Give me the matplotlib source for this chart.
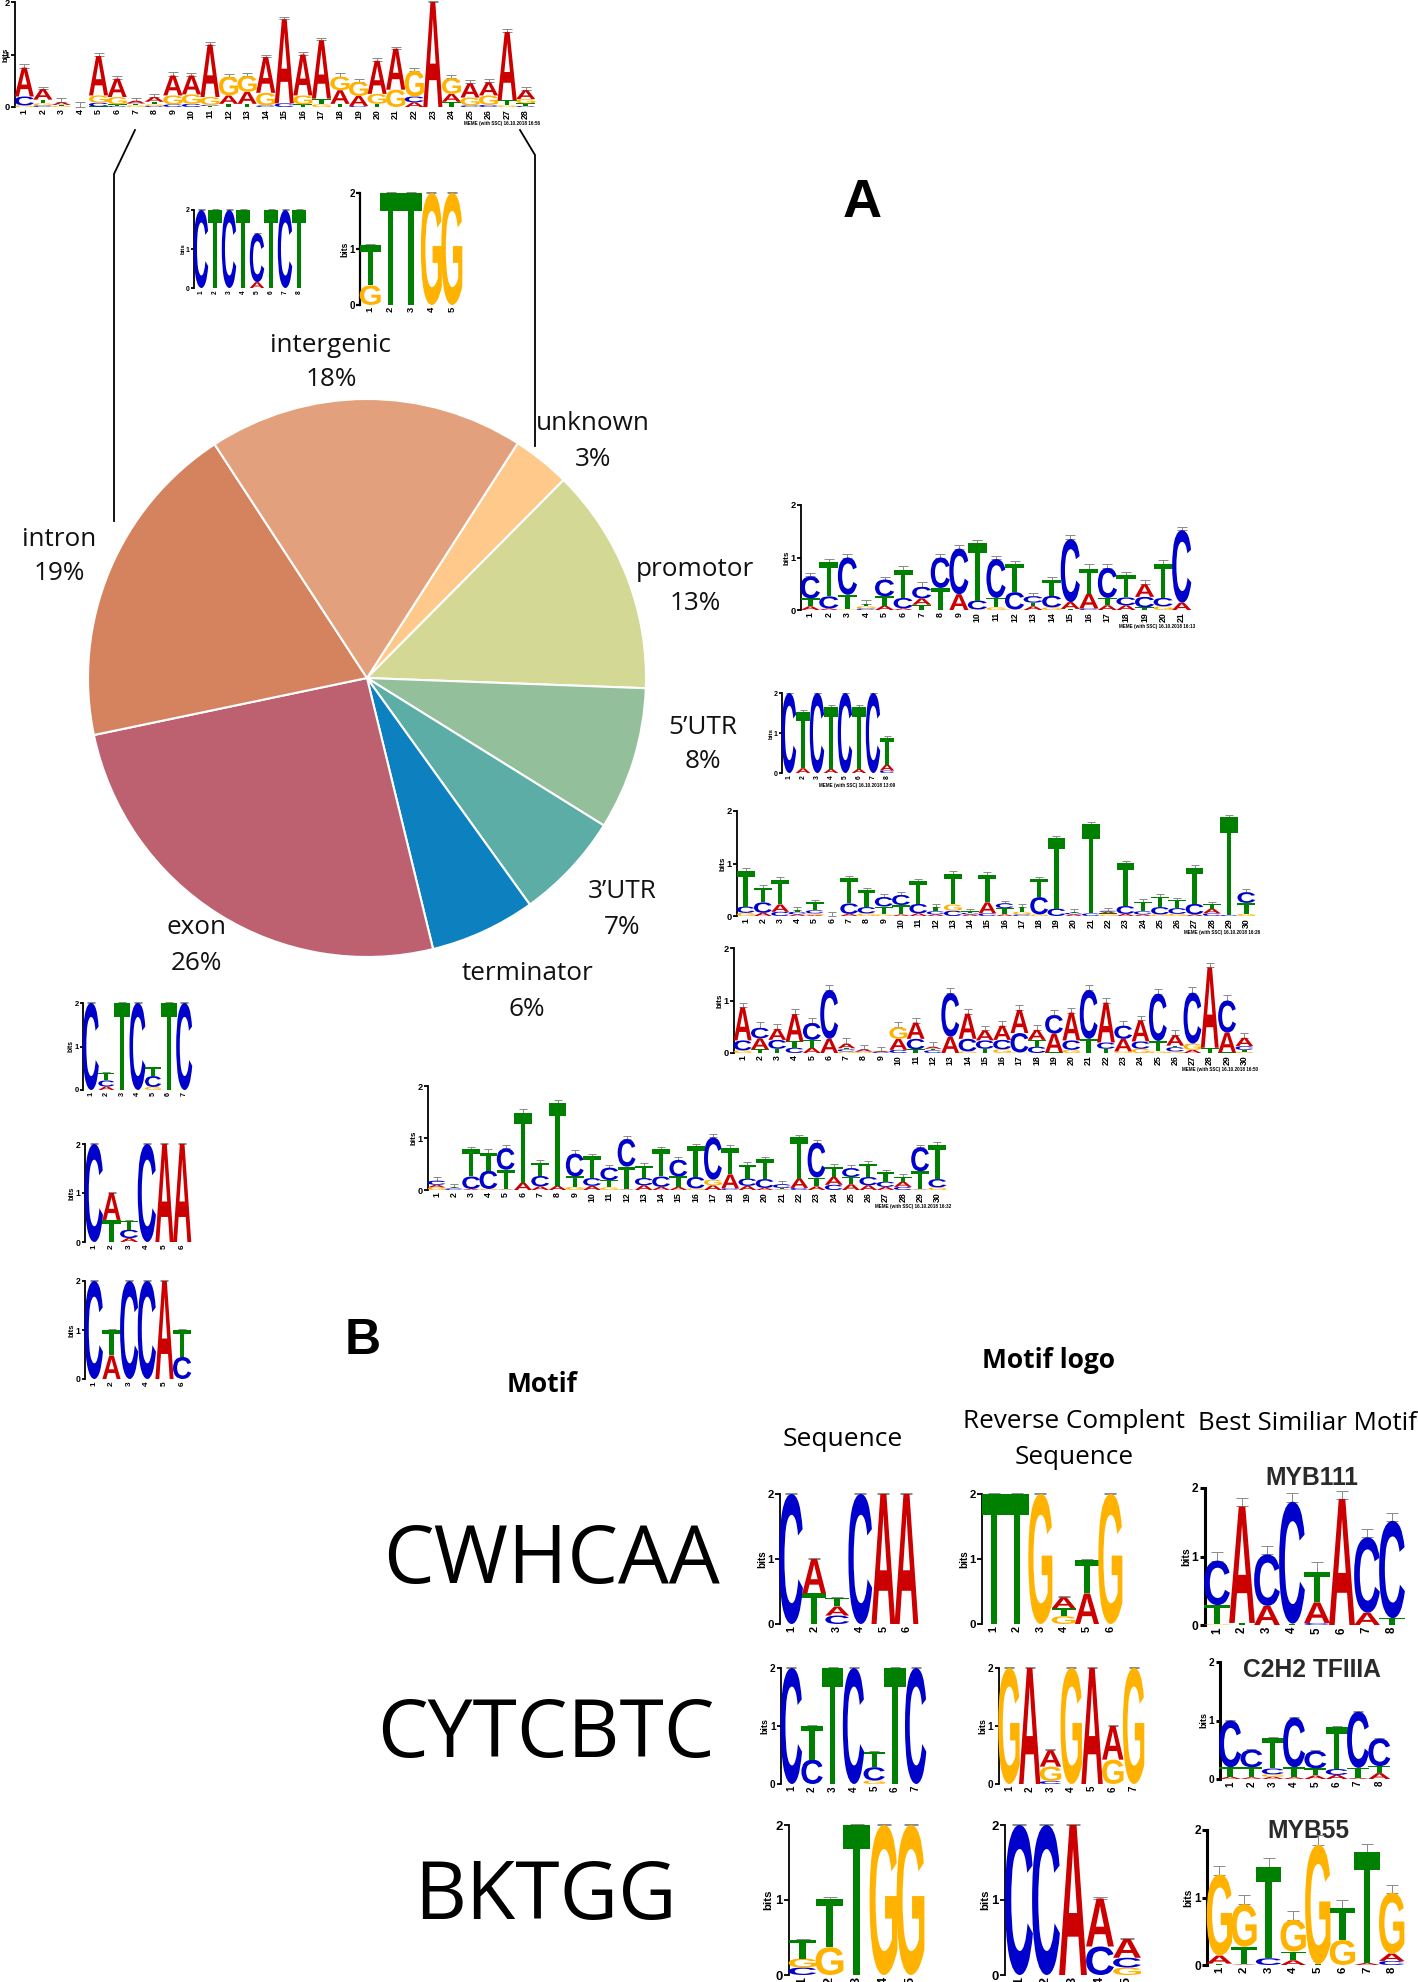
import matplotlib
matplotlib.use('Agg')
import matplotlib.pyplot as plt
from matplotlib.font_manager import FontProperties
from matplotlib.patches import PathPatch
from matplotlib.textpath import TextPath
from matplotlib.transforms import Affine2D

W, H = 1418, 1982

# pie
pie_labels = ['unknown', 'promotor', "5\u2019UTR", "3\u2019UTR", 'terminator', 'exon', 'intron', 'intergenic']
pie_percent = ['3%', '13%', '8%', '7%', '6%', '26%', '19%', '18%']
pie_values = [3.36, 13.14, 8.28, 6.22, 6.11, 25.53, 19.08, 18.28]
pie_colors = ['#FEC98A', '#D3D894', '#93C09B', '#5BADA5', '#0D80C0', '#BD6171', '#D5835F', '#E2A07C']

# logos: each stack is written bottom to top, letter + height in bits
logo_top = ['G.03 C.17 A.55', 'C.03 G.04 T.07 A.2', 'G.02 T.02 A.05', '', 'T.01 C.07 G.14 A.75',
            'C.02 T.03 G.14 A.35', 'G.03 T.03 C.01 A.05', 'C.02 G.03 T.05 A.09', 'C.05 G.17 A.38',
            'C.06 G.18 A.36', 'T.02 C.02 G.15 A1.0', 'T.06 A.16 G.36', 'T.06 A.23 G.3', 'C.03 G.24 A.68',
            'C.07 A1.6', 'T.05 G.17 A.78', 'G.05 T.11 A1.11', 'T.06 A.26 G.26', 'C.02 A.19 G.27',
            'T.06 G.19 A.63', 'G.33 A.78', 'A.09 C.11 G.49', 'A2', 'T.1 A.15 G.3', 'C.03 G.15 A.27',
            'C.04 G.18 A.25', 'G.03 T.1 A1.3', 'C.02 T.05 G.08 A.17']
err_top = [.06, .04, .08, .1, .06, .06, .06, .06, .06, .05, .05, .05, .06, .05,
           .05, .05, .05, .06, .06, .05, .04, .06, .02, .06, .06, .06, .05, .07]

logo_intergenic_a = ['C2', 'T2', 'C2', 'T2', 'A.15 C1.25', 'T2', 'C2', 'T2']
logo_intergenic_b = ['G.35 T.72', 'T2', 'T2', 'G2', 'G2']

logo_promotor = ['A.07 T.15 C.42', 'A.03 C.23 T.65', 'G.01 T.28 C.71', 'C.03 G.04 T.05', 'A.08 T.18 C.32',
                 'A.03 C.2 T.53', 'T.1 A.12 C.22', 'T.42 C.58', 'A.3 C.87', 'G.01 C.17 T1.09', 'G.05 T.18 C.74',
                 'G.01 C.33 T.54', 'A.07 T.07 C.12', 'G.05 C.22 T.3', 'T.02 A.13 C1.2', 'C.03 A.28 T.48',
                 'A.09 T.14 C.57', 'A.09 C.15 T.42', 'T.05 C.2 A.24', 'G.07 C.16 T.65', 'A.14 C1.38']
err_promotor = [.07, .07, .07, .07, .05, .07, .09, .06, .07, .06, .06, .06, .07, .06, .07, .08, .08, .07, .08, .07, .07]

logo_utr5 = ['C2', 'A.12 T1.4', 'C2', 'A.1 T1.55', 'C2', 'A.1 T1.55', 'C2', 'C.06 A.15 T.66']
err_utr5 = [.01, .05, .01, .04, .01, .04, .01, .05]

logo_utr3_a = ['G.06 C.12 T.68', 'A.06 C.2 T.28', 'C.08 A.14 T.47', 'A.03 C.05 T.04', 'A.02 G.03 C.06 T.15', '',
               'A.04 C.2 T.48', 'G.05 C.12 T.33', 'G.03 T.15 C.18', 'A.03 T.18 C.19', 'A.05 C.18 T.43',
               'A.03 C.06 T.09', 'C.1 G.12 T.58', 'A.03 C.03 T.03', 'C.05 A.21 T.52', 'A.03 T.12 C.09',
               'C.03 G.05 T.1', 'G.03 C.33 T.34', 'C.14 T1.35', 'A.03 C.03 T.02', 'C.05 T1.7',
               'G.03 T.02 A.03 C.02', 'A.04 C.15 T.82', 'A.03 C.06 T.18', 'G.03 C.14 T.2', 'G.04 C.11 T.16',
               'A.03 C.2 T.69', 'C.05 A.09 T.09', 'C.02 T1.87', 'G.04 T.21 C.2']
err_utr3_a = [.05, .05, .05, .05, .05, .07, .05, .04, .05, .05, .05, .05, .05, .05, .05,
              .05, .05, .05, .04, .05, .05, .05, .04, .05, .05, .04, .05, .04, .04, .06]

logo_utr3_b = ['G.05 C.19 A.63', 'T.07 A.21 C.2', 'T.08 C.17 A.21', 'C.1 T.12 A.52', 'A.1 T.15 C.32', 'A.27 C.93',
               'G.03 C.04 T.02 A.09', 'G.02 C.01 A.04', 'C.02 A.02', 'C.06 A.21 G.22', 'T.07 C.2 A.31',
               'C.05 T.03 A.04', 'A.31 C.83', 'G.03 C.24 A.48', 'T.08 C.16 A.19', 'G.07 C.18 A.27',
               'G.01 C.37 A.44', 'C.12 T.13 A.19', 'T.01 A.36 C.35', 'G.06 C.18 A.53', 'T.27 C.93',
               'T.08 C.12 A.76', 'G.03 A.24 C.25', 'G.08 C.14 A.4', 'G.03 T.2 C.9', 'G.03 C.08 T.03 A.2',
               'A.06 G.12 C.97', 'T.1 A1.53', 'T.01 A.38 C.61', 'G.02 T.04 C.07 A.16']
err_utr3_b = [.09, .11, .09, .09, .1, .09, .1, .09, .08, .1, .09, .09, .09, .09, .09,
              .09, .09, .09, .09, .09, .09, .09, .09, .09, .09, .09, .1, .09, .1, .1]

logo_terminator = ['G.05 A.05 C.08', 'C.03 T.03', 'A.02 C.24 T.52', 'G.02 C.35 T.35', 'A.01 T.38 C.41', 'A.14 T1.35',
                   'A.07 C.2 T.25', 'A.08 T1.6', 'G.06 T.2 C.44', 'A.08 C.15 T.42', 'G.05 T.14 C.24', 'A.01 T.44 C.53',
                   'A.09 C.14 T.24', 'A.06 C.2 T.52', 'A.06 T.2 C.32', 'G.03 C.22 T.59', 'A.09 G.11 C.81',
                   'C.03 A.27 T.5', 'A.08 C.14 T.27', 'A.04 C.17 T.38', 'A.01 T.03 C.07', 'C.04 A.18 T.79',
                   'A.07 T.17 C.67', 'C.1 A.15 T.19', 'A.11 T.14 C.17', 'A.09 C.16 T.25', 'A.06 C.1 T.18',
                   'C.06 A.1 T.09', 'A.01 T.35 C.46', 'G.05 C.16 T.66']
err_terminator = [.07, .06, .05, .06, .06, .07, .05, .06, .06, .05, .05, .06, .05, .05, .06,
                  .05, .06, .06, .05, .05, .06, .05, .05, .06, .07, .05, .05, .05, .05, .05]

logo_exon_a = ['C2', 'A.08 C.14 T.18', 'T2', 'C2', 'G.07 C.25 T.2', 'T2', 'C2']
logo_exon_b = ['C2', 'T.45 A.55', 'A.08 C.17 T.18', 'C2', 'A2', 'A2']
logo_exon_c = ['C2', 'A.48 T.52', 'C2', 'C2', 'A2', 'C.45 T.55']

logo_cwhcaa = ['C2', 'T.47 A.53', 'C.13 A.14 T.13', 'C2', 'A2', 'A2']
logo_cwhcaa_rc = ['T2', 'T2', 'G2', 'G.12 T.12 A.17', 'A.47 T.51', 'G2']
logo_myb111 = ['G.01 T.28 C.65', 'T.03 A1.7', 'A.28 C.75', 'T.02 C1.78', 'C.03 A.3 T.45', 'A1.84', 'A.18 C1.1', 'T.1 C1.42']
err_myb111 = [.12, .12, .12, .12, .14, .12, .12, .12]

logo_cytcbtc = ['C2', 'C.42 T.58', 'T2', 'C2', 'G.06 C.23 T.27', 'T2', 'C2']
logo_cytcbtc_rc = ['G2', 'A2', 'C.05 G.25 A.28', 'G2', 'A2', 'G.42 A.58', 'G2']
logo_tfiiia = ['A.04 T.16 C.8', 'A.03 T.17 C.3', 'A.04 G.04 C.1 T.52', 'A.03 T.17 C.85',
               'A.06 T.12 C.3', 'A.07 C.1 T.72', 'A.02 T.17 C.96', 'A.1 T.12 C.47']

logo_bktgg = ['C.1 G.12 T.25', 'G.37 T.65', 'T2', 'G2', 'G2']
logo_bktgg_rc = ['C2', 'C2', 'A2', 'C.38 A.64', 'G.1 C.13 A.25']
logo_myb55 = ['T.02 A.12 G1.2', 'A.01 T.26 G.63', 'C.1 T1.35', 'A.07 T.13 G.47',
              'T.01 G1.77', 'G.37 T.47', 'A.03 T1.65', 'C.06 A.11 G.9']
err_myb55 = [.13, .14, .13, .13, .14, .13, .12, .12]

LETTER_COLORS = {'A': '#CC0000', 'C': '#0000CC', 'G': '#FFB300', 'T': '#008000'}
LOGO_FONT = FontProperties(family='Liberation Sans', weight='bold')
GLYPHS = {c: TextPath((0, 0), c, size=1, prop=LOGO_FONT) for c in 'ACGT'}

fig = plt.figure(figsize=(W / 100, H / 100), dpi=100)
fig.patch.set_facecolor('white')


def px_axes(left, right, top, bottom):
    return fig.add_axes([left / W, 1 - bottom / H, (right - left) / W, (bottom - top) / H])


def draw_logo(stacks, left, right, top, bottom, err=0.015, lw=1.3, footer=None):
    ax = px_axes(left, right, top, bottom)
    ax.patch.set_alpha(0)
    n = len(stacks)
    ax.set_xlim(0.5, n + 0.5)
    ax.set_ylim(0, 2)
    tops = []
    for i, stack in enumerate(stacks, start=1):
        y = 0
        for item in stack.split():
            c, h = item[0], float(item[1:])
            g = GLYPHS[c]
            bb = g.get_extents()
            tr = (Affine2D().translate(-bb.x0, -bb.y0).scale(1.03 / bb.width, h / bb.height)
                  .translate(i - 0.515, y))
            ax.add_patch(PathPatch(tr.transform_path(g), fc=LETTER_COLORS[c], ec='none', zorder=3, clip_on=False))
            y += h
        tops.append(y)
    errs = err if isinstance(err, list) else [err] * n
    ax.errorbar(range(1, n + 1), tops, yerr=[[0] * n, errs], fmt='none', ecolor='#8a8a8a',
                elinewidth=0.7, capsize=(right - left) / n * 0.18, capthick=0.7, zorder=2, clip_on=False)
    h_px = bottom - top
    fs = h_px * 0.055
    for s in ['top', 'right', 'bottom']:
        ax.spines[s].set_visible(False)
    ax.spines['left'].set_linewidth(lw)
    ax.spines['left'].set_capstyle('projecting')
    ax.set_yticks([0, 1, 2])
    ax.set_xticks(range(1, n + 1))
    ax.set_xticklabels(range(1, n + 1), rotation=90, fontsize=fs * 1.1, fontweight='bold', family='Liberation Sans')
    ax.set_yticklabels(['0', '1', '2'], fontsize=fs * 1.15, fontweight='bold', family='Liberation Sans')
    ax.tick_params(axis='x', length=0, pad=1.5)
    ax.tick_params(axis='y', length=h_px * 0.025, width=lw, pad=1)
    # keep the bits label left of the tick numbers, but not off the figure
    bits_x = max(left - 0.135 * h_px, 6)
    ax.text((bits_x - left) / (right - left), 0.5, 'bits', rotation=90, transform=ax.transAxes, ha='center',
            va='center', fontsize=fs, fontweight='bold', family='Liberation Sans')
    if footer:
        ax.text(1.01, -0.155, footer, transform=ax.transAxes, ha='right', va='center', fontsize=3.3,
                fontweight='bold', family='Liberation Sans')
    return ax


# connector lines and text go on a full figure pixel axes
bg = fig.add_axes([0, 0, 1, 1])
bg.set_xlim(0, W)
bg.set_ylim(H, 0)
bg.axis('off')
bg.plot([135, 114, 114], [130, 174, 521], color='black', lw=1.3)
bg.plot([520, 535, 535], [130, 155, 446], color='black', lw=1.3)

ax_pie = px_axes(88, 646, 399, 957)
ax_pie.pie(pie_values, colors=pie_colors, startangle=57.3, counterclock=False,
           wedgeprops=dict(edgecolor='white', linewidth=1.5))
ax_pie.set_xlim(-1, 1)
ax_pie.set_ylim(-1, 1)

draw_logo(logo_top, 15, 535, 2, 107, err=err_top, footer='MEME (with SSC) 16.10.2018 16:56')
draw_logo(logo_intergenic_a, 194, 306, 210, 288)
draw_logo(logo_intergenic_b, 360, 462, 193, 305, lw=1.6)
draw_logo(logo_promotor, 801, 1191, 505, 610, err=err_promotor, footer='MEME (with SSC) 16.10.2018 16:13')
draw_logo(logo_utr5, 782, 894, 693, 773, err=err_utr5, footer='MEME (with SSC) 16.10.2018 13:09')
draw_logo(logo_utr3_a, 737, 1255, 811, 916, err=err_utr3_a, footer='MEME (with SSC) 16.10.2018 16:26')
draw_logo(logo_utr3_b, 734, 1253, 948, 1053, err=err_utr3_b, footer='MEME (with SSC) 16.10.2018 16:50')
draw_logo(logo_terminator, 428, 946, 1086, 1190, err=err_terminator, footer='MEME (with SSC) 16.10.2018 16:32')
draw_logo(logo_exon_a, 83, 192, 1003, 1090)
draw_logo(logo_exon_b, 85, 191, 1144, 1242)
draw_logo(logo_exon_c, 85, 191, 1281, 1379)

draw_logo(logo_cwhcaa, 779.5, 918, 1494, 1624)
draw_logo(logo_cwhcaa_rc, 982, 1122, 1494, 1624)
draw_logo(logo_myb111, 1204.5, 1404.5, 1488, 1625, err=err_myb111, lw=2.2)
draw_logo(logo_cytcbtc, 781, 926, 1668, 1784)
draw_logo(logo_cytcbtc_rc, 998.5, 1144, 1668, 1784)
draw_logo(logo_tfiiia, 1219.5, 1390, 1662, 1779, lw=2.2)
draw_logo(logo_bktgg, 789, 924, 1825, 1975)
draw_logo(logo_bktgg_rc, 1005.5, 1140.5, 1825, 1975)
draw_logo(logo_myb55, 1207, 1404, 1830, 1965, err=err_myb55, lw=2.2)

LABEL_FONT = 'Open Sans'
label_xy = [(593, 424, 459), (695, 570, 604), (703, 727, 761), (622, 891, 927),
            (527, 974, 1009), (196, 928, 963), (59, 539, 573), (331, 345, 380)]
for name, pct, (x, y1, y2) in zip(pie_labels, pie_percent, label_xy):
    bg.text(x, y1, name, ha='center', va='center', fontsize=18.8, family=LABEL_FONT, color='#111111')
    bg.text(x, y2, pct, ha='center', va='center', fontsize=18.8, family=LABEL_FONT, color='#111111')

bg.text(862, 203, 'A', ha='center', va='center', fontsize=39, fontweight='bold', family='Liberation Sans')
bg.text(363, 1341, 'B', ha='center', va='center', fontsize=36, fontweight='bold', family='Liberation Sans')
bg.text(542, 1385, 'Motif', ha='center', va='center', fontsize=19, fontweight='bold', family=LABEL_FONT)
bg.text(1048, 1361, 'Motif logo', ha='center', va='center', fontsize=19, fontweight='bold', family=LABEL_FONT)
bg.text(843, 1439, 'Sequence', ha='center', va='center', fontsize=19, family=LABEL_FONT)
bg.text(1074, 1421, 'Reverse Complent', ha='center', va='center', fontsize=18.8, family=LABEL_FONT)
bg.text(1074, 1457, 'Sequence', ha='center', va='center', fontsize=18.8, family=LABEL_FONT)
bg.text(1308, 1424, 'Best Similiar Motif', ha='center', va='center', fontsize=18.6, family=LABEL_FONT)

for name, x, y in [('MYB111', 1312, 1478), ('C2H2 TFIIIA', 1312, 1670), ('MYB55', 1308, 1831)]:
    bg.text(x, y, name, ha='center', va='center', fontsize=17.7, fontweight='bold', family='Liberation Sans',
            color='#2a2a2a')

for name, x, y in [('CWHCAA', 551, 1562), ('CYTCBTC', 546, 1736), ('BKTGG', 545, 1898)]:
    bg.text(x, y, name, ha='center', va='center', fontsize=58, family=LABEL_FONT)

fig.savefig('out.png', dpi=100)
